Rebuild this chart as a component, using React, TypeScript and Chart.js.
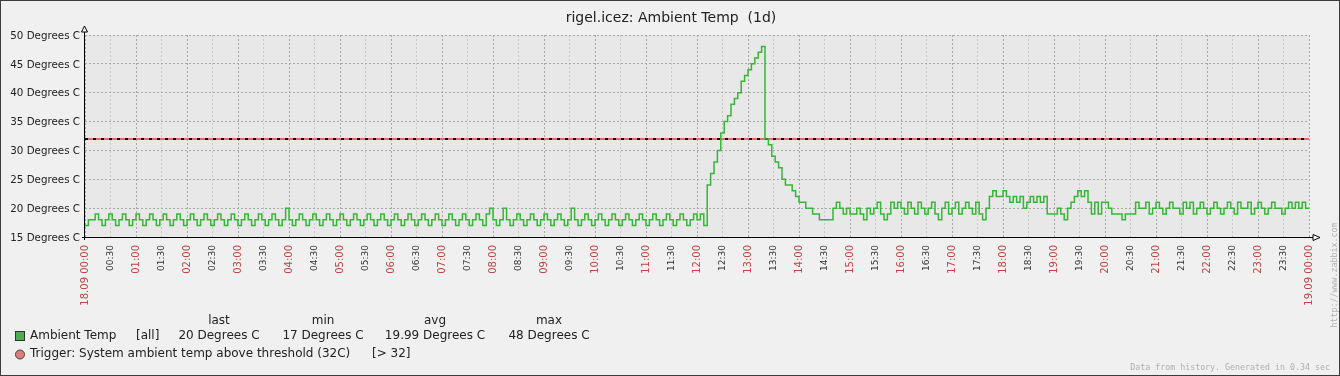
import React, { useEffect, useRef } from "react";
import { Chart, registerables } from "chart.js";

Chart.register(...registerables);

const FONT = "'DejaVu Sans', sans-serif";
const MONO = "'DejaVu Sans Mono', monospace";

const TITLE = "rigel.icez: Ambient Temp  (1d)";
const SERIES_NAME = "Ambient Temp";
const SERIES_SCOPE = "[all]";
const LEGEND_HEADERS = ["last", "min", "avg", "max"];
const LEGEND_VALUES = ["20 Degrees C", "17 Degrees C", "19.99 Degrees C", "48 Degrees C"];
const TRIGGER_TEXT = "Trigger: System ambient temp above threshold (32C)";
const TRIGGER_COND = "[> 32]";
const FOOTER_TEXT = "Data from history. Generated in 0.34 sec";
const SIDE_TEXT = "http://www.zabbix.com";
const THRESHOLD = 32;

// minutes between samples (one row below = one hour)
const STEP_MINUTES = 4;
const AMBIENT_TEMP = [
  17, 18, 18, 19, 18, 17, 18, 19, 18, 17, 18, 19, 18, 17, 18, // 00
  19, 18, 17, 18, 19, 18, 17, 18, 19, 18, 17, 18, 19, 18, 17, // 01
  18, 19, 18, 17, 18, 19, 18, 17, 18, 19, 18, 17, 18, 19, 18, // 02
  17, 18, 19, 18, 17, 18, 19, 18, 17, 18, 19, 18, 17, 18, 20, // 03
  18, 17, 18, 19, 18, 17, 18, 19, 18, 17, 18, 19, 18, 17, 18, // 04
  19, 18, 17, 18, 19, 18, 17, 18, 19, 18, 17, 18, 19, 18, 17, // 05
  18, 19, 18, 17, 18, 19, 18, 17, 18, 19, 18, 17, 18, 19, 18, // 06
  17, 18, 19, 18, 17, 18, 19, 18, 17, 18, 19, 18, 17, 19, 20, // 07
  18, 17, 18, 20, 18, 17, 18, 19, 18, 17, 18, 19, 18, 17, 18, // 08
  19, 18, 17, 18, 19, 18, 17, 18, 20, 18, 17, 18, 19, 18, 17, // 09
  18, 19, 18, 17, 18, 19, 18, 17, 18, 19, 18, 17, 18, 19, 18, // 10
  17, 18, 19, 18, 17, 18, 19, 18, 17, 18, 19, 18, 17, 18, 19, // 11
  18, 19, 17, 24, 26, 28, 30, 33, 35, 36, 38, 39, 40, 42, 43, // 12
  44, 45, 46, 47, 48, 32, 31, 29, 28, 27, 25, 24, 24, 23, 22, // 13
  21, 21, 20, 20, 19, 19, 18, 18, 18, 18, 20, 21, 20, 19, 20, // 14
  19, 19, 20, 19, 18, 20, 19, 20, 21, 19, 18, 19, 21, 20, 21, // 15
  20, 19, 21, 20, 19, 21, 20, 19, 20, 21, 19, 18, 20, 21, 19, // 16
  20, 21, 19, 20, 21, 20, 19, 21, 19, 18, 20, 22, 23, 22, 22, // 17
  23, 22, 21, 22, 21, 22, 20, 21, 22, 21, 22, 21, 22, 19, 19, // 18
  19, 20, 19, 18, 20, 21, 22, 23, 22, 23, 21, 19, 21, 19, 21, // 19
  21, 20, 19, 19, 19, 18, 19, 19, 19, 21, 20, 20, 21, 19, 20, // 20
  21, 20, 19, 20, 21, 20, 20, 19, 21, 20, 21, 19, 20, 21, 20, // 21
  19, 20, 21, 20, 19, 20, 21, 20, 19, 21, 20, 20, 21, 19, 20, // 22
  21, 20, 19, 20, 21, 20, 20, 19, 20, 21, 20, 21, 20, 21, 20, // 23
  20, // 24
];

const X_TICK_STEP = 30;
const X_TICK_LABELS = [
  "18.09 00:00", "00:30", "01:00", "01:30", "02:00", "02:30", "03:00", "03:30",
  "04:00", "04:30", "05:00", "05:30", "06:00", "06:30", "07:00", "07:30",
  "08:00", "08:30", "09:00", "09:30", "10:00", "10:30", "11:00", "11:30",
  "12:00", "12:30", "13:00", "13:30", "14:00", "14:30", "15:00", "15:30",
  "16:00", "16:30", "17:00", "17:30", "18:00", "18:30", "19:00", "19:30",
  "20:00", "20:30", "21:00", "21:30", "22:00", "22:30", "23:00", "23:30",
  "19.09 00:00",
];

const Y_MIN = 15;
const Y_MAX = 50;
const Y_GRID_STEP = 2.5;
const Y_TICK_VALUES = [15, 20, 25, 30, 35, 40, 45, 50];
const Y_TICK_LABELS = [
  "15 Degrees C", "20 Degrees C", "25 Degrees C", "30 Degrees C",
  "35 Degrees C", "40 Degrees C", "45 Degrees C", "50 Degrees C",
];

const RED_LABEL = "#c04444";
const TEXT = "#222222";
const GREEN = "#36b636";

const decor = {
  id: "decor",
  beforeDraw(chart: any) {
    const { ctx, chartArea: a, width, height } = chart;
    ctx.save();
    ctx.fillStyle = "#f0f0f0";
    ctx.fillRect(0, 0, width, height);
    ctx.fillStyle = "#e8e8e8";
    ctx.fillRect(a.left, a.top, a.right - a.left, a.bottom - a.top);
    ctx.restore();
  },
  afterDraw(chart: any) {
    const { ctx, chartArea: a, width, height } = chart;
    ctx.save();
    // axes
    ctx.strokeStyle = "#000";
    ctx.lineWidth = 1;
    ctx.beginPath();
    ctx.moveTo(a.left - 0.5, a.bottom + 3);
    ctx.lineTo(a.left - 0.5, a.top - 3);
    ctx.moveTo(a.left - 3, a.bottom + 0.5);
    ctx.lineTo(a.right + 4, a.bottom + 0.5);
    ctx.stroke();
    // arrows
    ctx.fillStyle = "#fff";
    ctx.beginPath();
    ctx.moveTo(a.left - 0.5, a.top - 9);
    ctx.lineTo(a.left - 3.5, a.top - 3);
    ctx.lineTo(a.left + 2.5, a.top - 3);
    ctx.closePath();
    ctx.fill();
    ctx.stroke();
    ctx.beginPath();
    ctx.moveTo(a.right + 11, a.bottom + 0.5);
    ctx.lineTo(a.right + 4, a.bottom - 2.5);
    ctx.lineTo(a.right + 4, a.bottom + 3.5);
    ctx.closePath();
    ctx.fill();
    ctx.stroke();

    // title
    ctx.fillStyle = TEXT;
    ctx.font = `14px ${FONT}`;
    ctx.textAlign = "center";
    ctx.textBaseline = "middle";
    ctx.fillText(TITLE, 671, 18);

    // legend
    ctx.font = `12px ${FONT}`;
    const cols = [219, 323, 435, 549];
    LEGEND_HEADERS.forEach((h, i) => ctx.fillText(h, cols[i], 321));
    LEGEND_VALUES.forEach((v, i) => ctx.fillText(v, cols[i], 336));
    ctx.textAlign = "left";
    ctx.fillText(SERIES_NAME, 30, 336);
    ctx.fillText(SERIES_SCOPE, 136, 336);
    ctx.fillText(TRIGGER_TEXT, 30, 354);
    ctx.fillText(TRIGGER_COND, 372, 354);
    ctx.fillStyle = "#4caf4c";
    ctx.fillRect(15, 331, 10, 10);
    ctx.strokeStyle = "#333";
    ctx.strokeRect(15.5, 331.5, 9, 9);
    ctx.beginPath();
    ctx.arc(20, 354.5, 4.5, 0, Math.PI * 2);
    ctx.fillStyle = "#e07c7c";
    ctx.fill();
    ctx.strokeStyle = "#444";
    ctx.stroke();

    // footers
    ctx.fillStyle = "#b0b0b0";
    ctx.font = `8.3px ${MONO}`;
    ctx.textAlign = "right";
    ctx.fillText(FOOTER_TEXT, 1330, 368);
    ctx.translate(1335, 275);
    ctx.rotate(-Math.PI / 2);
    ctx.textAlign = "center";
    ctx.fillText(SIDE_TEXT, 0, 0);
    ctx.setTransform(1, 0, 0, 1, 0, 0);

    // frame
    ctx.strokeStyle = "#3c3c3c";
    ctx.strokeRect(0.5, 0.5, width - 1, height - 1);
    ctx.restore();
  },
};

export default function App() {
  const ref = useRef<HTMLCanvasElement>(null);
  useEffect(() => {
    document.body.style.margin = "0";
    const canvas = ref.current!;
    const temp = AMBIENT_TEMP.map((v, i) => ({ x: i * STEP_MINUTES, y: v }));
    const lastX = (X_TICK_LABELS.length - 1) * X_TICK_STEP;
    const thr = [
      { x: 0, y: THRESHOLD },
      { x: lastX, y: THRESHOLD },
    ];
    const chart = new Chart(canvas, {
      type: "line",
      data: {
        datasets: [
          {
            label: SERIES_NAME,
            data: temp,
            borderColor: GREEN,
            borderWidth: 1.5,
            pointRadius: 0,
            stepped: true,
            fill: false,
          },
          {
            label: "thr-black",
            data: thr,
            borderColor: "#000",
            borderWidth: 2,
            borderDash: [3, 5],
            pointRadius: 0,
          },
          {
            label: "thr-red",
            data: thr,
            borderColor: "#e26a6a",
            borderWidth: 2,
            pointRadius: 0,
          },
        ],
      },
      options: {
        animation: false,
        responsive: false,
        maintainAspectRatio: false,
        layout: { padding: { top: 35, left: 0, right: 31, bottom: 0 } },
        plugins: {
          legend: { display: false },
          title: { display: false },
          tooltip: { enabled: false },
        },
        scales: {
          x: {
            type: "linear",
            min: 0,
            max: lastX,
            afterFit: (s: any) => {
              s.height = 376 - 237;
            },
            afterBuildTicks: (s: any) => {
              s.ticks = X_TICK_LABELS.map((_, i) => ({ value: i * X_TICK_STEP }));
            },
            ticks: {
              autoSkip: false,
              minRotation: 90,
              maxRotation: 90,
              padding: 8,
              callback: (_v: any, i: number) => X_TICK_LABELS[i],
              color: (c: any) => (c.index % 2 === 0 ? RED_LABEL : "#333"),
              font: (c: any) => ({ family: FONT, size: c.index % 2 === 0 ? 10 : 9 }),
            },
            grid: {
              drawTicks: false,
              color: (c: any) => (c.index % 2 === 0 ? "#a8a8a8" : "#c8c8c8"),
              lineWidth: 1,
            },
            border: { display: false, dash: [2, 2] },
          },
          y: {
            min: Y_MIN,
            max: Y_MAX,
            afterFit: (s: any) => {
              s.width = 85;
            },
            afterBuildTicks: (s: any) => {
              const t = [];
              for (let v = Y_MIN; v <= Y_MAX + 1e-9; v += Y_GRID_STEP) t.push({ value: v });
              s.ticks = t;
            },
            ticks: {
              padding: 5,
              labelOffset: 1,
              color: TEXT,
              font: { family: FONT, size: 10.3 },
              callback: (v: any) => {
                const i = Y_TICK_VALUES.indexOf(Number(v));
                return i >= 0 ? Y_TICK_LABELS[i] : "";
              },
            },
            grid: { drawTicks: false, color: "#a8a8a8", lineWidth: 1 },
            border: { display: false, dash: [2, 2] },
          },
        },
      },
      plugins: [decor],
    } as any);
    return () => chart.destroy();
  }, []);
  return (
    <canvas
      ref={ref}
      width={1340}
      height={376}
      style={{ display: "block", width: 1340, height: 376 }}
    />
  );
}
